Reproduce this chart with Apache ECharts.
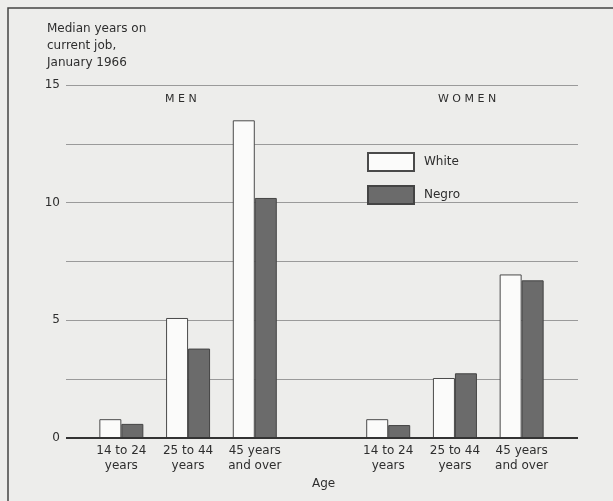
<!DOCTYPE html>
<html>
<head>
<meta charset="utf-8">
<script src="https://cdn.jsdelivr.net/npm/echarts@6/dist/echarts.min.js"></script>
<style>
  html, body { margin: 0; padding: 0; background: #ededeb; }
  #chart { width: 613px; height: 501px; }
</style>
</head>
<body>
<div id="chart"></div>
<script>
// categories, with an empty slot between the men and women groups
const ageGroups = ['14 to 24\nyears', '25 to 44\nyears', '45 years\nand over', '', '14 to 24\nyears', '25 to 44\nyears', '45 years\nand over']
const whiteYears = [0.8, 5.1, 13.5, null, 0.8, 2.55, 6.95]
const negroYears = [0.6, 3.8, 10.2, null, 0.55, 2.75, 6.7]
const yTickLabels = [0, 5, 10, 15]

const font = '"DejaVu Sans", sans-serif'
const ink = '#2e2e2e'
const chart = echarts.init(document.getElementById('chart'))

const option = {
  backgroundColor: '#ededeb',
  animation: false,
  textStyle: { fontFamily: font },
  grid: [
    // background grid: full width gridlines
    { left: 66, right: 35, top: 85, bottom: 63 },
    // bars
    { left: 88, right: 58, top: 85, bottom: 63 }
  ],
  xAxis: [
    { gridIndex: 0, type: 'value', show: false, min: 0, max: 1 },
    {
      gridIndex: 1,
      type: 'category',
      data: ageGroups,
      axisLine: { show: false },
      axisTick: { show: false },
      axisLabel: {
        color: ink,
        fontSize: 12,
        lineHeight: 15,
        margin: 5,
        interval: 0
      }
    }
  ],
  yAxis: [
    {
      gridIndex: 0,
      type: 'value',
      min: 0,
      max: 15,
      interval: 2.5,
      axisLine: { show: false },
      axisTick: { show: false },
      axisLabel: {
        color: ink,
        fontSize: 12,
        margin: 6,
        formatter: v => (yTickLabels.indexOf(v) >= 0 ? String(v) : '')
      },
      splitLine: { lineStyle: { color: '#9a9a9a', width: 1 } }
    },
    { gridIndex: 1, type: 'value', min: 0, max: 15, show: false, splitLine: { show: false } }
  ],
  legend: {
    orient: 'vertical',
    left: 362,
    top: 147,
    icon: 'rect',
    itemWidth: 46,
    itemHeight: 18,
    itemGap: 13,
    textStyle: { color: ink, fontSize: 12, padding: [0, 0, 0, 5] },
    data: ['White', 'Negro']
  },
  series: [
    {
      name: 'White',
      type: 'bar',
      xAxisIndex: 1,
      yAxisIndex: 1,
      data: whiteYears,
      barWidth: 22,
      barGap: '0%',
      itemStyle: { color: '#fbfbfa', borderColor: '#4a4a4a', borderWidth: 1 }
    },
    {
      name: 'Negro',
      type: 'bar',
      xAxisIndex: 1,
      yAxisIndex: 1,
      data: negroYears,
      barWidth: 22,
      itemStyle: { color: '#6b6b6b', borderColor: '#444', borderWidth: 1 }
    },
    {
      // baseline at zero across the full width
      type: 'line',
      xAxisIndex: 0,
      yAxisIndex: 0,
      data: [[0, 0], [1, 0]],
      symbol: 'none',
      silent: true,
      z: 5,
      lineStyle: { color: '#333', width: 2 }
    }
  ],
  graphic: [
    {
      type: 'rect',
      shape: { x: 8, y: 8, width: 620, height: 510 },
      style: { fill: 'none', stroke: '#444', lineWidth: 1.5 }
    },
    {
      type: 'text',
      left: 47,
      top: 20,
      style: {
        text: 'Median years on\ncurrent job,\nJanuary 1966',
        fill: ink,
        font: '12px ' + font,
        lineHeight: 17
      }
    },
    {
      type: 'text',
      left: 165,
      top: 94,
      style: { text: 'M E N', fill: ink, font: '11px ' + font }
    },
    {
      type: 'text',
      left: 438,
      top: 94,
      style: { text: 'W O M E N', fill: ink, font: '11px ' + font }
    },
    {
      type: 'text',
      left: 312,
      top: 478,
      style: { text: 'Age', fill: ink, font: '12px ' + font }
    }
  ]
}
chart.setOption(option)
</script>
</body>
</html>
